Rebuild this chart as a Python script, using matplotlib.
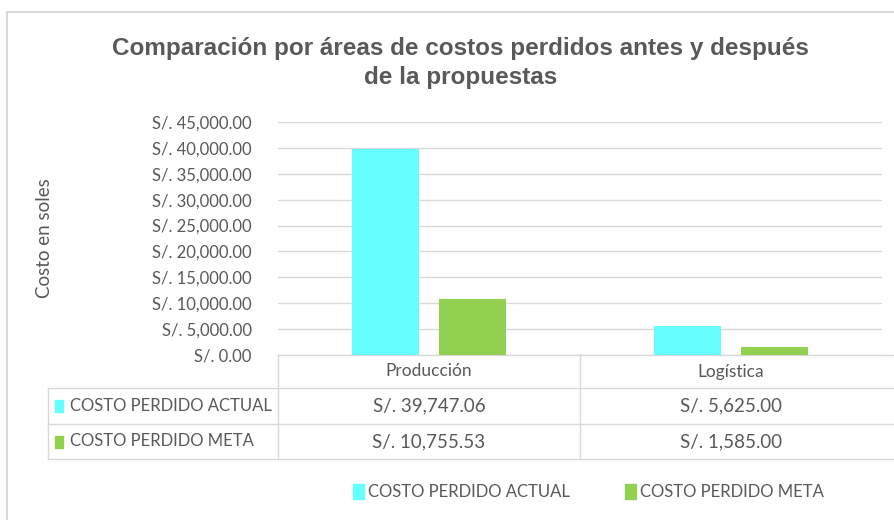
import matplotlib
matplotlib.use("Agg")
import matplotlib.pyplot as plt
import numpy as np
from matplotlib.patches import Rectangle, Patch
from matplotlib.ticker import FuncFormatter

# data
areas = ["Producción", "Logística"]
series_names = ["COSTO PERDIDO ACTUAL", "COSTO PERDIDO META"]
costo_actual = [39747.06, 5625.00]
costo_meta = [10755.53, 1585.00]
colors = ["#66ffff", "#92d050"]

W, H = 894, 520
fig = plt.figure(figsize=(W / 100, H / 100), dpi=100)
txt = "#595959"
grid = "#d9d9d9"
tick_font = ["Lato", "DejaVu Sans"]

def fx(px):
    return px / W

def fy(py):
    return 1 - py / H

# plot area
x0, x1, ytop, ybot = 278, 882, 122, 355
ax = fig.add_axes([fx(x0), fy(ybot), fx(x1) - fx(x0), fy(ytop) - fy(ybot)])
x = np.arange(len(areas))
w = 0.222
ax.bar(x - 0.143, costo_actual, w, color=colors[0], zorder=3)
ax.bar(x + 0.143, costo_meta, w, color=colors[1], zorder=3)
ax.set_xlim(-0.5, 1.5)
ax.set_ylim(0, 45000)
ax.set_yticks(np.arange(0, 45001, 5000))
ax.yaxis.set_major_formatter(FuncFormatter(lambda v, p: "S/. {:,.2f}".format(v)))
ax.set_xticks([])
ax.tick_params(axis="y", length=0, pad=19, labelsize=12, labelcolor=txt)
for lab in ax.get_yticklabels():
    lab.set_family(tick_font)
ax.grid(axis="y", color=grid, lw=1, zorder=0)
for s in ax.spines.values():
    s.set_visible(False)
ax.set_facecolor("none")

# overlay in pixel coords for table, frame, title
ov = fig.add_axes([0, 0, 1, 1], zorder=-1)
ov.set_xlim(0, W)
ov.set_ylim(H, 0)
ov.axis("off")

# frame border
ov.plot([7, 7, W], [H, 12, 12], color=grid, lw=1.5)

# title
fig.text(0.515, fy(63), "Comparación por áreas de costos perdidos antes y después\nde la propuestas",
         ha="center", va="center", fontsize=17.5, fontweight="bold", color=txt,
         family=["Liberation Sans Narrow", "Liberation Sans", "DejaVu Sans"], linespacing=1.3)

# y label
fig.text(fx(45), fy(238), "Costo en soles", rotation=90, ha="center", va="center",
         fontsize=13.5, color=txt, family=tick_font)

# data table
col_edges = [278, 580, 882]
rows_y = [355, 388, 424, 459]
lc = dict(color=grid, lw=1)
ov.plot([278, W], [355, 355], **lc)
ov.plot([48, W], [388, 388], **lc)
ov.plot([48, W], [424, 424], **lc)
ov.plot([48, W], [459, 459], **lc)
for cx in col_edges[:2]:
    ov.plot([cx, cx], [355, 459], **lc)
ov.plot([48, 48], [388, 459], **lc)

for i, a in enumerate(areas):
    cxm = (col_edges[i] + col_edges[i + 1]) / 2
    ov.text(cxm, (rows_y[0] + rows_y[1]) / 2, a, ha="center", va="center",
            fontsize=12.5, color=txt, family=tick_font)
    for r, vals in enumerate([costo_actual, costo_meta]):
        ov.text(cxm, (rows_y[r + 1] + rows_y[r + 2]) / 2, "S/. {:,.2f}".format(vals[i]),
                ha="center", va="center", fontsize=13.5, color=txt, family=tick_font)

for r, name in enumerate(series_names):
    yc = (rows_y[r + 1] + rows_y[r + 2]) / 2
    ov.add_patch(Rectangle((55, yc - 6), 8, 12, color=colors[r]))
    ov.text(70, yc, name, ha="left", va="center", fontsize=12, color=txt, family=tick_font)

# legend
handles = [Patch(color=c) for c in colors]
fig.legend(handles, series_names, loc="center", bbox_to_anchor=(fx(588), fy(492)), ncol=2,
           frameon=False, handlelength=0.7, handleheight=1.0, handletextpad=0.2,
           columnspacing=3.3, prop={"family": tick_font, "size": 12}, labelcolor=txt)

fig.savefig("out.png", dpi=100)
